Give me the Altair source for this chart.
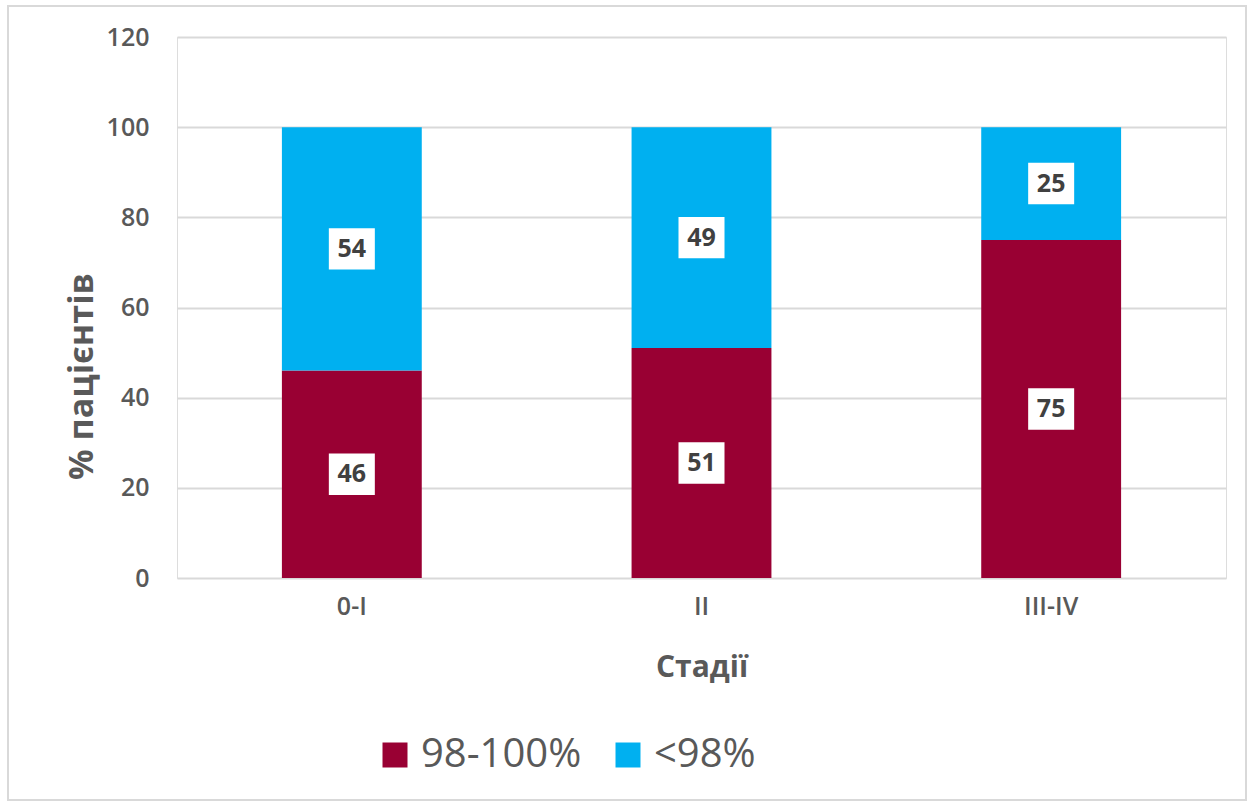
import altair as alt
import pandas as pd

# Stage groups and share of patients per group
stages = ["0-I", "II", "III-IV"]
groups = ["98-100%", "<98%"]
share_high = [46, 51, 75]   # 98-100%
share_low = [54, 49, 25]    # <98%
colors = ["#990033", "#00B0F0"]

rows = []
for i, s in enumerate(stages):
    base = 0
    for j, (g, vals) in enumerate(zip(groups, [share_high, share_low])):
        v = vals[i]
        rows.append({"stage": s, "group": g, "value": v, "order": j,
                     "mid": base + v / 2})
        base += v
df = pd.DataFrame(rows)

FONT = "Open Sans"
W, H = 1049, 541
PAD = {"left": 177, "top": 37, "right": 23, "bottom": 224}

x_enc = alt.X("stage:N", sort=stages,
              scale=alt.Scale(paddingInner=0.6, paddingOuter=0.3),
              axis=alt.Axis(title="Стадії", labelAngle=0, labelFontSize=25,
                            labelFontWeight=600, labelColor="#595959",
                            labelPadding=16, ticks=False, domain=False,
                            titleFontSize=30, titleFontWeight="bold",
                            titleColor="#595959", titleY=89,
                            titleBaseline="middle"))

bars = alt.Chart(df).mark_bar().encode(
    x=x_enc,
    y=alt.Y("value:Q", stack="zero",
            scale=alt.Scale(domain=[0, 120]),
            axis=alt.Axis(title="% пацієнтів", values=[0, 20, 40, 60, 80, 100, 120],
                          labelFontSize=25, labelFontWeight=600,
                          labelColor="#595959", labelPadding=28,
                          ticks=False, domain=False,
                          gridColor="#d9d9d9", gridWidth=2,
                          titleFontSize=34, titleFontWeight="bold",
                          titleColor="#595959", titleX=-95, titleY=339,
                          titleAngle=270, titleAlign="center",
                          titleBaseline="middle")),
    color=alt.Color("group:N", sort=groups,
                    scale=alt.Scale(domain=groups, range=colors),
                    legend=alt.Legend(title=None, orient="none",
                                      direction="horizontal",
                                      legendX=198, legendY=698,
                                      symbolType="square", symbolSize=625,
                                      symbolStrokeWidth=0,
                                      labelFontSize=40, labelColor="#595959",
                                      labelFont=FONT, labelOffset=6,
                                      labelLimit=400, columnPadding=26)),
    order=alt.Order("order:Q"),
)

# White label boxes behind the values
boxes = alt.Chart(df).mark_point(
    shape="M-1,-0.9L1,-0.9L1,0.9L-1,0.9Z", filled=True, color="white",
    opacity=1, size=2116, strokeWidth=0,
).encode(x=alt.X("stage:N", sort=stages), y=alt.Y("mid:Q"))

labels = alt.Chart(df).mark_text(
    font=FONT, fontSize=25, fontWeight="bold", color="#404040",
    baseline="middle", align="center",
).encode(x=alt.X("stage:N", sort=stages), y=alt.Y("mid:Q"),
         text=alt.Text("value:Q"))

# Outer frame around the whole chart
frame = alt.Chart(df).mark_rect(filled=False, stroke="#d9d9d9",
                                strokeWidth=2).encode(
    x=alt.value(8 - PAD["left"]), x2=alt.value(1246 - PAD["left"]),
    y=alt.value(6 - PAD["top"]), y2=alt.value(800 - PAD["top"]),
)

chart = alt.layer(frame, bars, boxes, labels).properties(
    width=W, height=H, padding=PAD, autosize=alt.AutoSizeParams(type="none"),
    background="white",
).configure_view(stroke=None).configure(font=FONT)

chart.save("out.html", embed_options={"renderer": "svg", "actions": False})
